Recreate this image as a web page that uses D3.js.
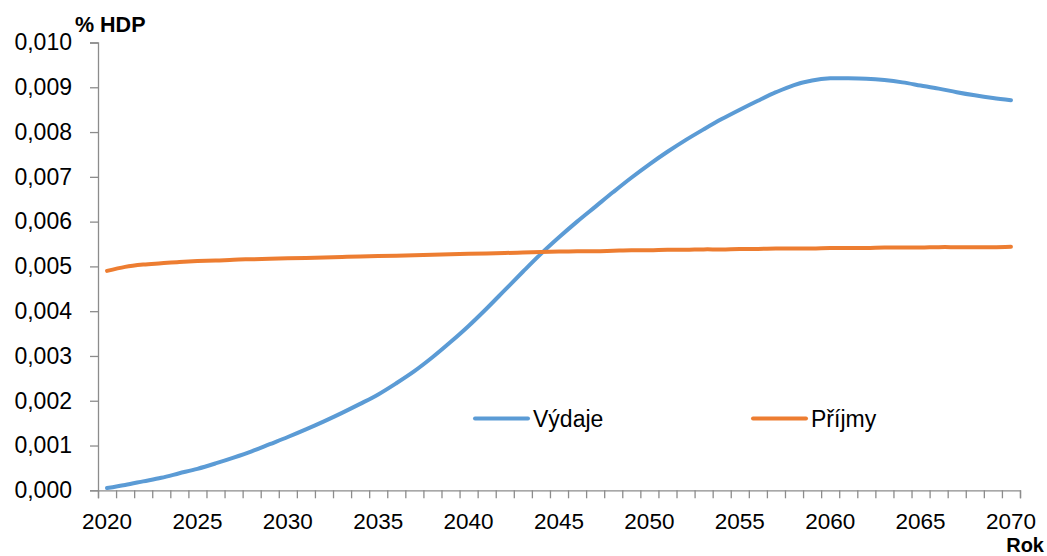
<!DOCTYPE html>
<html>
<head>
<meta charset="utf-8">
<script src="https://cdn.jsdelivr.net/npm/d3@7"></script>
<style>
  body { margin: 0; background: #fff; }
  svg { font-family: "Liberation Sans", Arial, sans-serif; }
</style>
</head>
<body>
<div id="chart"></div>
<script>
// data
var years = d3.range(2020, 2071);

var vydaje = [
  0.00005, 0.00012, 0.00020, 0.00028, 0.00038, 0.00048, 0.00060, 0.00073, 0.00087, 0.00103,
  0.00119, 0.00136, 0.00154, 0.00173, 0.00193, 0.00214, 0.00239, 0.00266, 0.00297, 0.00331,
  0.00367, 0.00406, 0.00447, 0.00488, 0.00528, 0.00565, 0.00600, 0.00633, 0.00666, 0.00698,
  0.00728, 0.00756, 0.00782, 0.00806, 0.00829, 0.00850, 0.00870, 0.00889, 0.00905, 0.00915,
  0.00920, 0.00920, 0.00919, 0.00916, 0.00911, 0.00904, 0.00897, 0.00889, 0.00882, 0.00876,
  0.00871
];

var prijmy = [
  0.00490, 0.00499, 0.00504, 0.00507, 0.00510, 0.00512, 0.00513, 0.00515, 0.00516, 0.00517,
  0.00518, 0.00519, 0.00520, 0.00521, 0.00522, 0.00523, 0.00524, 0.00525, 0.00526, 0.00527,
  0.00528, 0.00529, 0.00530, 0.00531, 0.00532, 0.00533, 0.00534, 0.00534, 0.00535, 0.00536,
  0.00536, 0.00537, 0.00537, 0.00538, 0.00538, 0.00539, 0.00539, 0.00540, 0.00540, 0.00540,
  0.00541, 0.00541, 0.00541, 0.00542, 0.00542, 0.00542, 0.00543, 0.00543, 0.00543, 0.00543,
  0.00544
];

var yTicks = [0, 0.001, 0.002, 0.003, 0.004, 0.005, 0.006, 0.007, 0.008, 0.009, 0.010];
var xLabels = [2020, 2025, 2030, 2035, 2040, 2045, 2050, 2055, 2060, 2065, 2070];

var seriesNames = ["Výdaje", "Příjmy"];
var colors = ["#5B9BD5", "#ED7D31"];

var svgWidth = 1047;
var svgHeight = 556;

var margin = { top: 42.5, right: 27, bottom: 65.7, left: 98 };
var width = svgWidth - margin.left - margin.right;
var height = svgHeight - margin.top - margin.bottom;

var svg = d3.select("#chart")
  .append("svg")
  .attr("width", svgWidth)
  .attr("height", svgHeight);

var chartGroup = svg.append("g")
  .attr("transform", `translate(${margin.left}, ${margin.top})`);

// category axis: each year is a slot, ticks sit between slots
var x = d3.scaleLinear()
  .domain([2019.5, 2070.5])
  .range([0, width]);

var y = d3.scaleLinear()
  .domain([0, 0.010])
  .range([height, 0]);

var axisColor = "#8c8c8c";

// y axis
var leftAxis = d3.axisLeft(y)
  .tickValues(yTicks)
  .tickSize(8)
  .tickPadding(18)
  .tickFormat(d => d.toFixed(3).replace(".", ","));

var gy = chartGroup.append("g").call(leftAxis);
gy.selectAll("path, line").attr("stroke", axisColor).attr("stroke-width", 1.3);
gy.selectAll("text").attr("fill", "#000").style("font-size", "23px");

// x axis
var bottomAxis = d3.axisBottom(x)
  .tickValues(d3.range(2019.5, 2071, 1))
  .tickSize(8)
  .tickFormat("");

var gx = chartGroup.append("g")
  .attr("transform", `translate(0, ${height})`)
  .call(bottomAxis);
gx.selectAll("path, line").attr("stroke", axisColor).attr("stroke-width", 1.3);

chartGroup.selectAll(".xlabel")
  .data(xLabels)
  .enter()
  .append("text")
  .attr("class", "xlabel")
  .attr("x", d => x(d))
  .attr("y", height + 38.7)
  .attr("text-anchor", "middle")
  .style("font-size", "22.5px")
  .text(d => d);

// lines
var line = d3.line()
  .x((d, i) => x(years[i]))
  .y(d => y(d))
  .curve(d3.curveCatmullRom);

[vydaje, prijmy].forEach(function (values, i) {
  chartGroup.append("path")
    .datum(values)
    .attr("fill", "none")
    .attr("stroke", colors[i])
    .attr("stroke-width", 4)
    .attr("stroke-linecap", "round")
    .attr("d", line);
});

// legend
var legendX = [475, 753];
seriesNames.forEach(function (name, i) {
  svg.append("line")
    .attr("x1", legendX[i])
    .attr("x2", legendX[i] + 53)
    .attr("y1", 418.5)
    .attr("y2", 418.5)
    .attr("stroke", colors[i])
    .attr("stroke-width", 4)
    .attr("stroke-linecap", "round");
  svg.append("text")
    .attr("x", legendX[i] + 58)
    .attr("y", 426.5)
    .style("font-size", "23px")
    .text(name);
});

// axis titles
svg.append("text")
  .attr("x", 75)
  .attr("y", 32)
  .style("font-size", "21.5px")
  .style("font-weight", "bold")
  .text("% HDP");

svg.append("text")
  .attr("x", 1044)
  .attr("y", 551.6)
  .attr("text-anchor", "end")
  .style("font-size", "20px")
  .style("font-weight", "bold")
  .text("Rok");
</script>
</body>
</html>
